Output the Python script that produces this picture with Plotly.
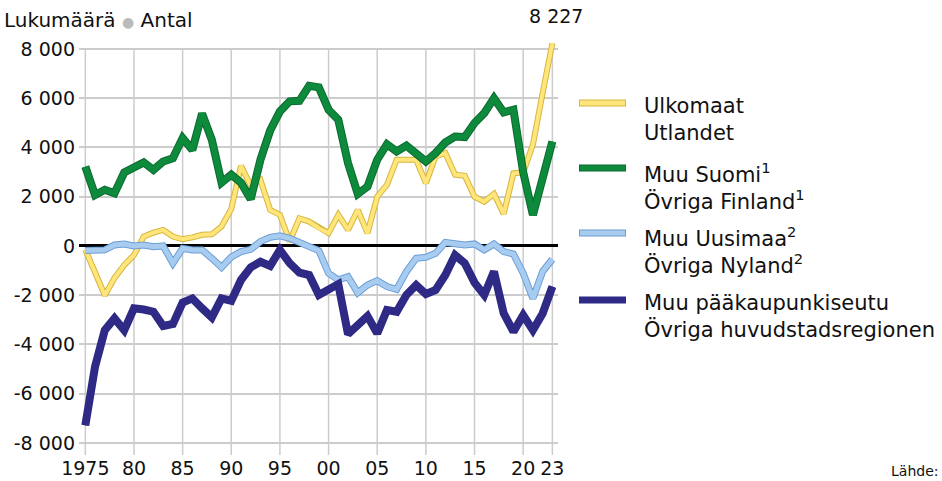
import plotly.graph_objects as go

# data
years = list(range(1975, 2024))

ulkomaat = [
    -150, -1050, -2000, -1300, -780, -370, 380, 540, 650, 380,
    270, 350, 450, 470, 790, 1500, 3250, 2450, 2680, 1460,
    1260, 180, 1120, 990, 720, 520, 1260, 650, 1460, 520,
    2000, 2480, 3500, 3500, 3500, 2550, 3630, 3770, 2890, 2850,
    2000, 1800, 2110, 1300, 2950, 2980, 4110, 6210, 8227,
]
muu_suomi = [
    3220, 2070, 2280, 2140, 2980, 3160, 3390, 3090, 3430, 3560,
    4380, 3900, 5370, 4310, 2570, 2890, 2570, 1900, 3500, 4690,
    5460, 5870, 5890, 6500, 6440, 5530, 5120, 3360, 2110, 2410,
    3500, 4130, 3835, 4070, 3770, 3430, 3770, 4200, 4440, 4420,
    4990, 5390, 6000, 5420, 5530, 3000, 1260, 2680, 4240,
]
muu_uusimaa = [
    -190, -190, -160, 40, 80, 0, 40, -30, 0, -700,
    -100, -160, -160, -500, -870, -450, -230, -140, 180, 350,
    410, 310, 140, -50, -190, -1110, -1380, -1250, -1900, -1590,
    -1410, -1650, -1760, -1040, -500, -460, -300, 140, 80, 40,
    80, -160, 80, -230, -330, -1110, -2130, -1040, -540,
]
muu_pks = [
    -7280, -4900, -3420, -2940, -3420, -2530, -2580, -2670, -3250, -3170,
    -2300, -2130, -2530, -2900, -2130, -2230, -1380, -870, -640, -810,
    -160, -700, -1080, -1180, -1990, -1760, -1550, -3580, -3210, -2850,
    -3550, -2600, -2670, -1990, -1590, -1950, -1790, -1180, -370, -700,
    -1490, -1990, -1040, -2740, -3480, -2810, -3420, -2740, -1650,
]

series_names = [
    "Ulkomaat<br>Utlandet",
    "Muu Suomi<sup>1</sup><br>Övriga Finland<sup>1</sup>",
    "Muu Uusimaa<sup>2</sup><br>Övriga Nyland<sup>2</sup>",
    "Muu pääkaupunkiseutu<br>Övriga huvudstadsregionen",
]

x_tickvals = [1975, 1980, 1985, 1990, 1995, 2000, 2005, 2010, 2015, 2020, 2023]
x_ticktext = ["1975", "80", "85", "90", "95", "00", "05", "10", "15", "20", "23"]
y_tickvals = [-8000, -6000, -4000, -2000, 0, 2000, 4000, 6000, 8000]
y_ticktext = ["-8 000", "-6 000", "-4 000", "-2 000", "0", "2 000", "4 000", "6 000", "8 000"]

# (fill colour, outline colour, inner width)
styles = [
    ("#FFE57A", "#D4B640", 4),
    ("#0E8A3C", "#0A6A2E", 6),
    ("#A8CCEF", "#6A9ED6", 5),
    ("#2E2A85", "#2E2A85", 6),
]

FONT = "DejaVu Sans"
W, H = 942, 481
ML, MR, MT, MB = 79, 384, 39, 26
YMIN, YMAX = -8486, 8400
XMIN, XMAX = 1974.35, 2023.58


def px_x(px):
    return (px - ML) / (W - ML - MR)


def px_y(py):
    return (H - MB - py) / (H - MT - MB)


fig = go.Figure()

for vals, (fill, edge, width) in zip([ulkomaat, muu_suomi, muu_uusimaa, muu_pks], styles):
    fig.add_trace(
        go.Scatter(x=years, y=vals, mode="lines", showlegend=False, hoverinfo="skip",
                   line=dict(color=edge, width=width + 2))
    )
    fig.add_trace(
        go.Scatter(x=years, y=vals, mode="lines", showlegend=False,
                   line=dict(color=fill, width=width))
    )

# vertical grid lines stop at the top gridline
for xv in x_tickvals:
    fig.add_shape(type="line", x0=xv, x1=xv, y0=YMIN, y1=8000, xref="x", yref="y",
                  line=dict(color="#CCCCCC", width=1.5), layer="below")

# legend drawn by hand
legend_line_y = [103, 168, 233, 300]
legend_text_y = [120, 186, 250, 316]
for name, (fill, edge, width), ly, ty in zip(series_names, styles, legend_line_y, legend_text_y):
    fig.add_shape(type="line", xref="paper", yref="paper",
                  x0=px_x(579), x1=px_x(626), y0=px_y(ly), y1=px_y(ly),
                  line=dict(color=edge, width=7))
    fig.add_shape(type="line", xref="paper", yref="paper",
                  x0=px_x(580), x1=px_x(625), y0=px_y(ly), y1=px_y(ly),
                  line=dict(color=fill, width=5))
    fig.add_annotation(text=name, xref="paper", yref="paper", x=px_x(642), y=px_y(ty),
                       xanchor="left", yanchor="middle", align="left", showarrow=False,
                       font=dict(size=21, color="#111111", family=FONT))

fig.add_annotation(text="Lukumäärä <span style='color:#BBBBBB;font-size:14px'>●</span> Antal",
                   xref="paper", yref="paper", x=px_x(2), y=px_y(20),
                   xanchor="left", yanchor="middle", showarrow=False,
                   font=dict(size=20, color="#111111", family=FONT))

fig.add_annotation(text=f"{ulkomaat[-1]:,}".replace(",", " "), x=years[-1], y=ulkomaat[-1],
                   xref="x", yref="y", xanchor="center", yanchor="bottom", yshift=14, xshift=4,
                   showarrow=False, font=dict(size=19, color="#111111", family=FONT))

fig.add_annotation(text="Lähde:", xref="paper", yref="paper", x=px_x(940), y=px_y(471),
                   xanchor="right", yanchor="middle", showarrow=False,
                   font=dict(size=14, color="#111111", family=FONT))

fig.update_layout(
    width=W, height=H,
    margin=dict(l=ML, r=MR, t=MT, b=MB, autoexpand=False),
    paper_bgcolor="white", plot_bgcolor="white",
    font=dict(family=FONT, size=19, color="#111111"),
    showlegend=False,
    xaxis=dict(range=[XMIN, XMAX], tickvals=x_tickvals, ticktext=x_ticktext,
               showgrid=False, zeroline=False, showline=False, ticks="",
               tickfont=dict(size=19), automargin=False),
    yaxis=dict(range=[YMIN, YMAX], tickvals=y_tickvals, ticktext=y_ticktext,
               showgrid=True, gridcolor="#CCCCCC", gridwidth=1.5,
               zeroline=True, zerolinecolor="#000000", zerolinewidth=2.5,
               showline=False, ticks="", ticklabelstandoff=3,
               tickfont=dict(size=19), automargin=False),
)

fig.write_html("out.html", config={"displayModeBar": False},
               post_script="document.body.style.margin='0';")
